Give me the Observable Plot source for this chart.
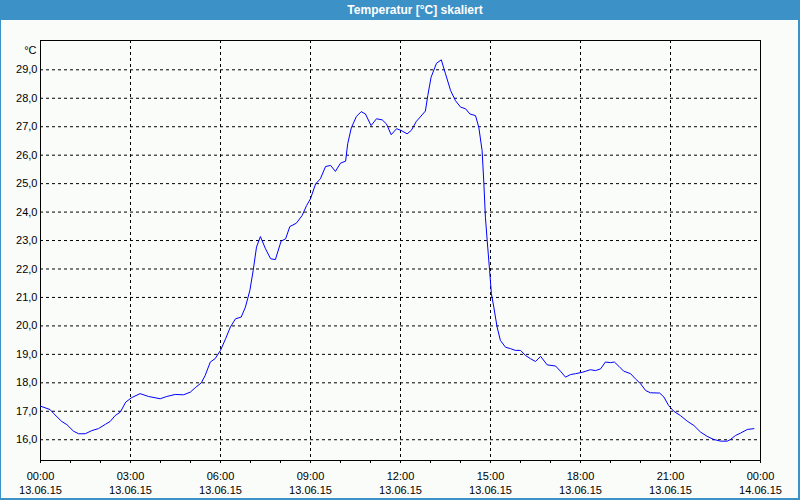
<!DOCTYPE html>
<html><head><meta charset="utf-8">
<script src="https://cdn.jsdelivr.net/npm/d3@7"></script>
<script src="https://cdn.jsdelivr.net/npm/@observablehq/plot@0.6"></script>
<style>
html,body{margin:0;padding:0;background:#fafcfa;}
#win{position:relative;width:800px;height:500px;overflow:hidden;background:#fafcfa;font-family:"Liberation Sans",Arial,sans-serif;}
#title{position:absolute;left:0;top:0;width:800px;height:20px;background:#3c91c6;}
#title div{position:absolute;left:30px;width:770px;top:0;height:20px;line-height:20px;text-align:center;color:#fff;font-weight:bold;font-size:12px;}
#chart{position:absolute;left:0;top:20px;}
.b{position:absolute;background:#3c91c6;}
</style></head>
<body>
<div id="win">
  <div id="title"><div>Temperatur [°C] skaliert</div></div>
  <div id="chart"></div>
  <div class="b" style="left:0;top:20px;width:1px;height:480px"></div>
  <div class="b" style="right:0;top:20px;width:2px;height:480px"></div>
  <div class="b" style="left:0;bottom:0;width:800px;height:2px"></div>
</div>
<script>
// time in hours since 13.06.15 00:00
const hours = [0.00,0.32,0.43,0.71,0.88,1.10,1.27,1.49,1.71,1.93,2.16,2.32,2.49,2.66,2.84,3.04,3.32,3.60,3.99,4.21,4.49,4.77,4.99,5.16,5.36,5.49,5.66,5.82,6.00,6.17,6.33,6.50,6.69,6.83,6.98,7.09,7.20,7.33,7.50,7.67,7.83,8.02,8.17,8.31,8.53,8.72,8.87,9.00,9.17,9.33,9.50,9.67,9.83,10.00,10.17,10.24,10.36,10.53,10.69,10.83,11.02,11.20,11.39,11.53,11.69,11.87,12.02,12.22,12.36,12.53,12.83,12.91,13.02,13.20,13.36,13.50,13.67,13.83,14.00,14.17,14.31,14.50,14.61,14.72,14.78,14.83,14.89,14.97,15.03,15.11,15.22,15.33,15.50,15.67,15.83,16.00,16.17,16.33,16.50,16.67,16.89,17.17,17.33,17.50,17.67,17.83,18.06,18.33,18.50,18.67,18.83,19.00,19.13,19.28,19.44,19.67,19.83,20.00,20.17,20.33,20.64,20.78,20.94,21.11,21.33,21.56,21.78,22.00,22.22,22.44,22.67,22.89,23.00,23.17,23.33,23.56,23.78];
const temps = [17.18,17.06,16.93,16.64,16.53,16.30,16.21,16.21,16.32,16.39,16.54,16.64,16.85,16.97,17.32,17.48,17.62,17.52,17.44,17.52,17.59,17.58,17.67,17.83,18.00,18.26,18.73,18.85,19.14,19.55,19.96,20.25,20.31,20.66,21.25,21.95,22.77,23.14,22.71,22.36,22.33,22.98,23.06,23.49,23.61,23.88,24.23,24.47,24.99,25.17,25.60,25.64,25.43,25.72,25.79,26.40,26.96,27.36,27.53,27.45,27.04,27.28,27.24,27.10,26.72,26.93,26.87,26.75,26.87,27.19,27.55,28.10,28.74,29.23,29.35,28.86,28.27,27.92,27.69,27.63,27.45,27.39,26.98,26.16,24.99,23.82,23.00,21.95,21.13,20.66,19.96,19.49,19.25,19.20,19.14,19.14,18.96,18.85,18.75,18.93,18.63,18.59,18.41,18.20,18.29,18.32,18.37,18.46,18.43,18.49,18.73,18.71,18.73,18.58,18.41,18.32,18.14,17.97,17.73,17.65,17.64,17.50,17.20,17.00,16.85,16.65,16.50,16.27,16.12,16.01,15.95,15.95,16.01,16.15,16.23,16.36,16.39];

const yTicks = [16,17,18,19,20,21,22,23,24,25,26,27,28,29];
const yTickLabels = ["16,0","17,0","18,0","19,0","20,0","21,0","22,0","23,0","24,0","25,0","26,0","27,0","28,0","29,0"];
const xTicks = [0,3,6,9,12,15,18,21,24];
const xTickTimes = ["00:00","03:00","06:00","09:00","12:00","15:00","18:00","21:00","00:00"];
const xTickDates = ["13.06.15","13.06.15","13.06.15","13.06.15","13.06.15","13.06.15","13.06.15","13.06.15","14.06.15"];
const minorTicks = d3.range(0, 25, 1);
const unitLabel = "°C";

const data = hours.map((h, i) => ({h, t: temps[i]}));

const chart = Plot.plot({
  width: 800,
  height: 480,
  marginTop: 20,
  marginBottom: 40,
  marginLeft: 40,
  marginRight: 40,
  style: {background: "#fafcfa", fontFamily: "Liberation Sans, Arial, sans-serif", fontSize: "11px", color: "#000"},
  x: {domain: [0, 24]},
  y: {domain: [15.27, 30.03]},
  marks: [
    Plot.gridY(yTicks, {stroke: "#000", strokeOpacity: 1, strokeDasharray: "3,3"}),
    Plot.gridX(xTicks.slice(1, -1), {stroke: "#000", strokeOpacity: 1, strokeDasharray: "3,3"}),
    Plot.frame({stroke: "#000"}),
    Plot.axisY({ticks: yTicks, tickSize: 0, tickPadding: 3, tickFormat: d => yTickLabels[yTicks.indexOf(d)], label: null}),
    Plot.axisX({ticks: minorTicks, tickSize: 3, tickFormat: () => "", label: null}),
    Plot.axisX({ticks: xTicks, tickSize: 0, tickPadding: 12, tickFormat: d => xTickTimes[xTicks.indexOf(d)], label: null}),
    Plot.axisX({ticks: xTicks, tickSize: 0, tickPadding: 26, tickFormat: d => xTickDates[xTicks.indexOf(d)], label: null}),
    Plot.text([unitLabel], {frameAnchor: "top-left", text: d => d, textAnchor: "end", dx: -4, dy: 6, fill: "#000"}),
    Plot.line(data, {x: "h", y: "t", stroke: "#0000ff", strokeWidth: 1})
  ]
});
document.getElementById("chart").appendChild(chart);
</script>
</body></html>
